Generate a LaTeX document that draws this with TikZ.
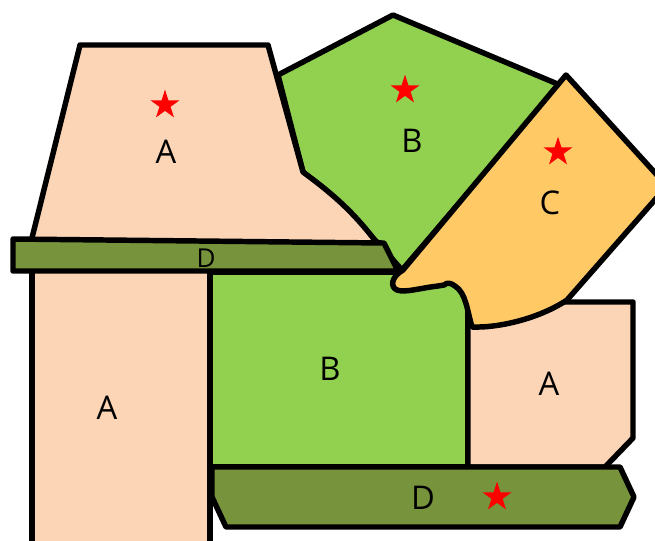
\documentclass[tikz,border=0pt]{standalone}
\usepackage{fontspec}
\setmainfont{Open Sans}
\usetikzlibrary{shapes.geometric}
\definecolor{colA}{HTML}{FBD5B5}
\definecolor{colB}{HTML}{92D050}
\definecolor{colC}{HTML}{FFC966}
\definecolor{colD}{HTML}{77933C}
\tikzset{
  region/.style={draw=black, line width=4.1pt, line join=round},
  lab/.style={font=\fontsize{24.5}{28}\selectfont, inner sep=0pt},
  smalllab/.style={font=\fontsize{19.5}{22}\selectfont, inner sep=0pt},
  redstar/.style={star, star points=5, star point ratio=2.618, fill=red, draw=none, minimum size=23pt, inner sep=0pt}
}
\begin{document}
\begin{tikzpicture}[x=0.75pt, y=-0.75pt]
\useasboundingbox (0,0) rectangle (655,540);
\clip (0,0) rectangle (655,540);
% B top
\path[region, fill=colB] (278,75) -- (393,15) -- (560,85) -- (402,270) -- (378,243) -- (303,172) -- cycle;
% A top
\path[region, fill=colA] (80,45) -- (268,45) -- (303,172) .. controls (330,192) and (355,212) .. (382,250) -- (29,250) -- cycle;
% B middle
\path[region, fill=colB] (210,272) rectangle (468,467);
% A left
\path[region, fill=colA] (32,265) rectangle (210,570);
% A right
\path[region, fill=colA] (468,302) -- (633,302) -- (633,438) -- (605,467) -- (468,467) -- cycle;
% D top
\path[region, fill=colD] (13,239) -- (384,243) -- (398,271) -- (13,271) -- cycle;
% C
\path[region, fill=colC] (566,75) -- (667,186) -- (567,300) .. controls (540,318) and (500,328) .. (472,327) .. controls (467,310) and (466,293) .. (455,286) .. controls (451,283) and (447,282) .. (444,285) -- (438,286) .. controls (420,288) and (405,293) .. (397,290) .. controls (390,287) and (391,277) .. (403,270) -- cycle;
% D bottom
\path[region, fill=colD] (212,467) -- (620,467) -- (634,497) -- (620,527) -- (226,527) -- (212,497) -- cycle;
% labels
\node[lab] (la1) at (166,152) {A};
\node[redstar] (s1) at (165,105) {};
\node[lab] (lb1) at (412,141) {B};
\node[redstar] (s2) at (405,90) {};
\node[lab] (lc) at (550,203) {C};
\node[redstar] (s3) at (558,152) {};
\node[smalllab] (ld1) at (206,258) {D};
\node[lab] (la2) at (107,408) {A};
\node[lab] (lb2) at (330,369) {B};
\node[lab] (la3) at (549,384) {A};
\node[lab] (ld2) at (423,498) {D};
\node[redstar] (s4) at (497,497) {};
\end{tikzpicture}
\end{document}
